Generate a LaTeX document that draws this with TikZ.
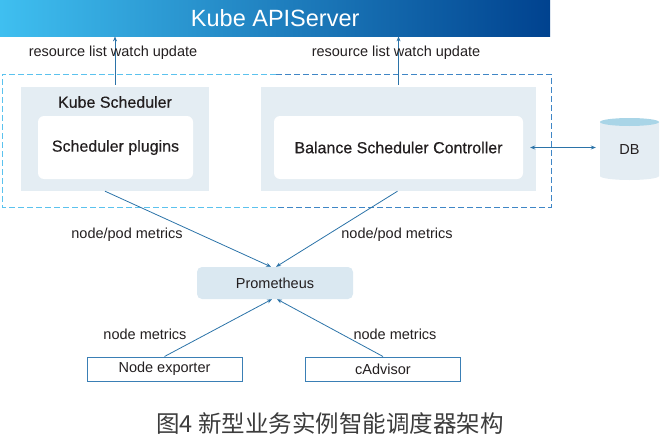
\documentclass[tikz,border=0pt]{standalone}
\usepackage{fontspec}
\setmainfont{Liberation Sans}
\newfontfamily\medfont{Liberation Sans}[FakeBold=0.5]
\newfontfamily\cjk{Noto Sans CJK SC}
\usetikzlibrary{arrows.meta}
\definecolor{txt}{HTML}{231F20}
\definecolor{panelc}{HTML}{E4EDF3}
\definecolor{promc}{HTML}{DAE8F1}
\definecolor{linec}{HTML}{2B73A8}
\definecolor{boxc}{HTML}{3A7FB5}
\definecolor{dashl}{HTML}{5BC2EE}
\definecolor{dashr}{HTML}{3F86C6}
\definecolor{bannerl}{HTML}{3FBFF0}
\definecolor{bannerr}{HTML}{00428F}
\definecolor{dbtop}{HTML}{A9D5E7}
\definecolor{capc}{HTML}{3C3C3C}
\begin{document}
\begin{tikzpicture}[x=1pt,y=-1pt,
  lbl/.style={font=\fontsize{14.5}{16}\selectfont, text=txt, inner sep=0pt},
  title/.style={font=\medfont\fontsize{16}{18}\selectfont, text=txt, inner sep=0pt},
  panel/.style={fill=panelc, draw=none, inner sep=0pt},
  innerbox/.style={fill=white, draw=none, rounded corners=6pt, inner sep=0pt},
  conn/.style={draw=linec, line width=0.8pt, -{Stealth[length=5pt,width=4pt]}},
  biconn/.style={draw=linec, line width=0.8pt, {Stealth[length=5pt,width=4pt]}-{Stealth[length=5pt,width=4pt]}},
  dashbox/.style={line width=1pt, dash pattern=on 6pt off 3pt},
  srcbox/.style={draw=boxc, line width=1pt, fill=white, minimum width=155pt, minimum height=24pt, lbl}
]
\useasboundingbox (0,0) rectangle (660,436);
% banner
\node[anchor=north west, minimum width=550pt, minimum height=36pt, inner sep=0pt,
  left color=bannerl, right color=bannerr, text=white,
  font=\fontsize{23.5}{25}\selectfont] (api) at (0,0) {Kube APIServer};
% dashed frame
\draw[dashbox, draw=dashl] (276,74) -- (2,74) -- (2,207) -- (276,207);
\draw[dashbox, draw=dashr] (276,74) -- (551,74) -- (551,207) -- (276,207);
% Kube Scheduler
\node[panel, minimum width=188pt, minimum height=104pt] (ks) at (115,139) {};
\node[title] (kst) at (115,102) {Kube Scheduler};
\node[innerbox, minimum width=155pt, minimum height=63pt, title] (ksin) at (115.5,147.5) {Scheduler plugins};
% Balance Scheduler Controller
\node[panel, minimum width=275pt, minimum height=104pt] (bal) at (398.5,139) {};
\node[innerbox, minimum width=249pt, minimum height=63pt, title] (balin) at (398.5,147.5) {Balance Scheduler Controller};
% DB cylinder
\fill[panelc] (600,122) -- (600,176) arc[start angle=180, end angle=0, x radius=29.5, y radius=4] -- (659,122) -- cycle;
\fill[dbtop] (629.5,122) ellipse[x radius=29.5, y radius=4];
\node[lbl, minimum width=59pt, minimum height=40pt] (db) at (629.5,150) {DB};
% Prometheus
\node[fill=promc, rounded corners=5pt, minimum width=156pt, minimum height=32pt, lbl] (prom) at (275,283) {Prometheus};
% sources
\node[srcbox] (ne) at (164.5,369) {Node exporter};
\node[srcbox] (ca) at (383,369) {cAdvisor};
% connectors
\draw[conn] ([yshift=2pt]ks.north) -- (api.south -| ks.north);
\draw[conn] ([yshift=2pt]bal.north) -- (api.south -| bal.north);
\draw[biconn] ([xshift=7pt]balin.east) -- ([xshift=-4pt]db.west |- balin.east);
\draw[conn] ([xshift=-10pt]ks.south) -- ([xshift=-4pt]prom.north);
\draw[conn] ([xshift=-1pt]bal.south) -- ([xshift=1pt]prom.north);
\draw[conn] (ne.north) -- ([xshift=-3pt]prom.south);
\draw[conn] (ca.north) -- ([xshift=2pt]prom.south);
% labels
\node[lbl] (l1) at (113,53) {resource list watch update};
\node[lbl] (l2) at (396,53) {resource list watch update};
\node[lbl] (l3) at (127,235) {node/pod metrics};
\node[lbl] (l4) at (397,235) {node/pod metrics};
\node[lbl] (l5) at (145,334) {node metrics};
\node[lbl] (l6) at (395,334) {node metrics};
% caption
\node[font=\cjk\fontsize{23.5}{27}\selectfont, text=capc, inner sep=0pt] (cap) at (330,423) {图4 新型业务实例智能调度器架构};
\end{tikzpicture}
\end{document}
